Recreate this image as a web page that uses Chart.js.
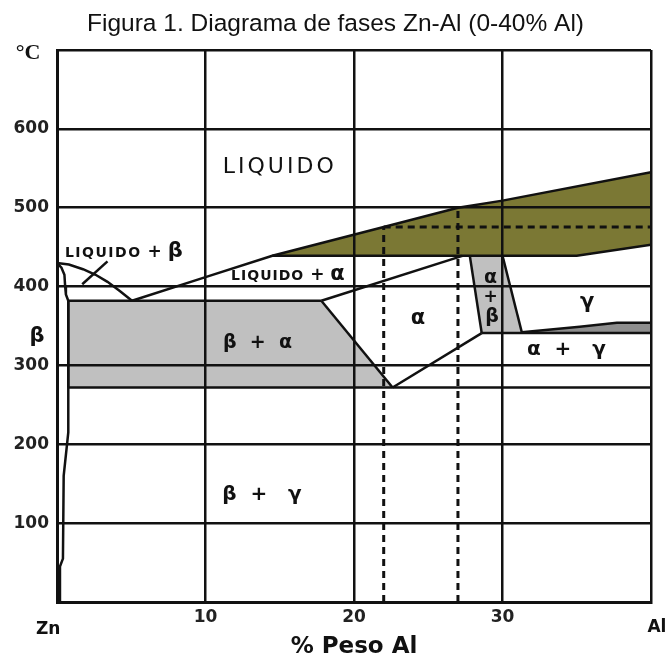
<!DOCTYPE html>
<html>
<head>
<meta charset="utf-8">
<script src="https://cdn.jsdelivr.net/npm/chart.js@4.4.1/dist/chart.umd.min.js"></script>
<style>
  body { margin: 0; background: #fff; }
  #marco { width: 671px; height: 656px; }
</style>
</head>
<body>
<div id="marco"><canvas id="fases" width="671" height="656"></canvas></div>
<script>
var titulo = 'Figura 1. Diagrama de fases Zn-Al (0-40% Al)';

// ejes (% peso Al, °C)
var ticksX = [10, 20, 30];
var ticksY = [100, 200, 300, 400, 500, 600];

// lineas del diagrama [x, y]
var liquidoZn = [[0, 430], [0.8, 428], [1.75, 422], [2.6, 415], [3.4, 406], [4.25, 394], [5.05, 382]];
var liquidoAl = [[5.05, 382], [10, 412], [14.5, 439], [19, 461], [22, 475.5], [27, 500], [30, 509], [40, 545]];
var solidoZn = [[0, 430], [0.3, 424], [0.5, 415], [0.55, 400], [0.6, 390], [0.76, 382], [0.76, 215], [0.45, 160], [0.4, 55], [0.2, 45], [0.2, 0]];
var eutectica = [[0.76, 382], [17.8, 382]];
var eutectoide = [[0.76, 272], [40, 272]];
var monotectoide = [[28.6, 341], [40, 341]];
var bordeCaja = [[0.76, 272], [0.76, 382]];
var solidoAlfa = [[17.8, 382], [27.3, 439]];
var solvusAlfa = [[17.8, 382], [22.6, 272]];
var alfaInf = [[22.6, 272], [28.6, 341]];
var alfaDer = [[27.8, 439], [28.6, 341]];
var betaIzq = [[30, 439], [31.3, 342]];
var bandaSup = [[31.3, 342], [35.2, 349], [37.7, 354], [40, 354]];
var olivaInf = [[14.5, 439], [35, 439], [40, 453]];
var flecha = [[1.7, 403], [3.4, 432]];
var trazo22 = [[22, 0], [22, 475.5]];
var trazo27 = [[27, 0], [27, 500]];
var trazoH = [[22, 475.5], [40, 475.5]];

// zonas rellenas
var zonaBetaAlfa = [[0.76, 272], [0.76, 382], [17.8, 382], [22.6, 272]];
var zonaAlfaBeta = [[27.8, 439], [30, 439], [31.3, 341], [28.6, 341]];
var zonaBanda = [[31.3, 341]].concat(bandaSup, [[40, 341]]);
var zonaOliva = liquidoAl.slice(2).concat(olivaInf.slice().reverse());

// rotulos [texto, x, y]
var rotulos = [
  {partes: [['LIQUIDO', '22px "DejaVu Sans"', 3]], x: 15.0, y: 544, base: 'alphabetic'},
  {partes: [['LIQUIDO', 'bold 14px "DejaVu Sans"', 1.5], [' + ', 'bold 17px "DejaVu Sans"'], ['β', 'bold 21px "DejaVu Sans"']], x: 4.5, y: 437.5, base: 'alphabetic'},
  {partes: [['LIQUIDO', 'bold 14px "DejaVu Sans"', 1], [' + ', 'bold 17px "DejaVu Sans"'], ['α', 'bold 21px "DejaVu Sans"']], x: 15.55, y: 408, base: 'alphabetic'},
  {partes: [['α', 'bold 21px "DejaVu Sans"']], x: 24.3, y: 360},
  {partes: [['α', 'bold 19px "DejaVu Sans"']], x: 29.2, y: 411},
  {partes: [['+', 'bold 17px "DejaVu Sans"']], x: 29.2, y: 386},
  {partes: [['β', 'bold 19px "DejaVu Sans"']], x: 29.3, y: 361},
  {partes: [['γ', 'bold 21px "DejaVu Sans"']], x: 35.7, y: 380},
  {partes: [['α  +   γ', 'bold 20px "DejaVu Sans"']], x: 34.3, y: 320},
  {partes: [['β  +  α', 'bold 19px "DejaVu Sans"']], x: 13.5, y: 328},
  {partes: [['β  +   γ', 'bold 20px "DejaVu Sans"']], x: 13.8, y: 136},
  {partes: [['β', 'bold 21px "DejaVu Sans"']], x: -1.35, y: 336},
  {partes: [['°C', 'bold 22px "Liberation Serif"']], x: -1.95, y: 696},
  {partes: [['Zn', 'bold 17px "DejaVu Sans"']], x: -0.6, y: -35},
  {partes: [['Al', 'bold 17px "DejaVu Sans"']], x: 40.4, y: -33}
];

function puntos(arr) {
  return arr.map(function(p) { return {x: p[0], y: p[1]}; });
}

function linea(arr, extra) {
  return Object.assign({
    data: puntos(arr),
    borderColor: '#111',
    borderWidth: 2.5,
    pointRadius: 0,
    fill: false,
    tension: 0
  }, extra || {});
}

function zona(arr, color) {
  return linea(arr.concat([arr[0]]), {
    borderWidth: 0,
    borderColor: 'rgba(0,0,0,0)',
    backgroundColor: color,
    fill: 'shape'
  });
}

var guion = {borderDash: [7, 5], borderWidth: 3};

// titulo y textos del diagrama (en coordenadas de datos)
var pluginRotulos = {
  id: 'rotulos',
  afterDraw: function(chart) {
    var ctx = chart.ctx;
    var sx = chart.scales.x, sy = chart.scales.y;
    ctx.save();
    ctx.fillStyle = '#111';

    // titulo centrado en el lienzo
    ctx.font = '24.5px "Liberation Sans"';
    ctx.textAlign = 'center';
    ctx.textBaseline = 'alphabetic';
    ctx.fillText(titulo, chart.width / 2, 31);

    ctx.textAlign = 'left';
    rotulos.forEach(function(r) {
      var total = 0;
      var anchos = r.partes.map(function(p) {
        ctx.font = p[1];
        ctx.letterSpacing = (p[2] || 0) + 'px';
        var w = ctx.measureText(p[0]).width;
        total += w;
        return w;
      });
      var x = sx.getPixelForValue(r.x) - total / 2;
      var y = sy.getPixelForValue(r.y);
      ctx.textBaseline = r.base || 'middle';
      r.partes.forEach(function(p, i) {
        ctx.font = p[1];
        ctx.letterSpacing = (p[2] || 0) + 'px';
        ctx.fillText(p[0], x, y);
        x += anchos[i];
      });
    });
    ctx.letterSpacing = '0px';
    ctx.restore();
  }
};

function diagrama() {
  var ctx = document.getElementById('fases');
  var myChart = new Chart(ctx, {
    type: 'line',
    data: {
      datasets: [
        zona(zonaOliva, '#7b7834'),
        zona(zonaBetaAlfa, '#c0c0c0'),
        zona(zonaAlfaBeta, '#c0c0c0'),
        zona(zonaBanda, '#8e8e8e'),
        linea(liquidoZn),
        linea(liquidoAl),
        linea(solidoZn),
        linea(eutectica),
        linea(eutectoide),
        linea(monotectoide),
        linea(bordeCaja),
        linea(solidoAlfa),
        linea(solvusAlfa),
        linea(alfaInf),
        linea(alfaDer),
        linea(betaIzq),
        linea(bandaSup),
        linea(olivaInf),
        linea(flecha),
        linea(trazo22, guion),
        linea(trazo27, guion),
        linea(trazoH, guion)
      ]
    },
    options: {
      responsive: false,
      animation: false,
      events: [],
      layout: { padding: { left: 0, right: 20, top: 50, bottom: 0 } }, // arriba: sitio para el titulo
      scales: {
        x: {
          type: 'linear',
          min: 0,
          max: 40,
          afterFit: function(s) { s.height = 54; },
          ticks: {
            stepSize: 10,
            padding: 5,
            maxRotation: 0,
            color: '#222',
            font: { family: 'DejaVu Sans', size: 17, weight: 'bold' },
            callback: function(v) { return ticksX.indexOf(v) >= 0 ? String(v) : ''; }
          },
          grid: { color: '#111', lineWidth: 2.5, drawTicks: false },
          border: { color: '#111', width: 3 },
          title: {
            display: true,
            text: '% Peso Al',
            color: '#111',
            padding: { top: 0, bottom: -3 },
            font: { family: 'DejaVu Sans', size: 23, weight: 'bold', lineHeight: 1 }
          }
        },
        y: {
          min: 0,
          max: 700,
          afterFit: function(s) { s.width = 57; },
          ticks: {
            stepSize: 100,
            padding: 8,
            color: '#222',
            font: { family: 'DejaVu Sans', size: 17, weight: 'bold' },
            callback: function(v) { return ticksY.indexOf(v) >= 0 ? String(v) : ''; }
          },
          grid: { color: '#111', lineWidth: 2.5, drawTicks: false },
          border: { color: '#111', width: 3 }
        }
      },
      plugins: {
        legend: { display: false },
        tooltip: { enabled: false },
        filler: { drawTime: 'beforeDraw' },
        title: { display: false }
      }
    },
    plugins: [pluginRotulos]
  });
}

window.onload = function() {
  diagrama();
};
</script>
</body>
</html>
